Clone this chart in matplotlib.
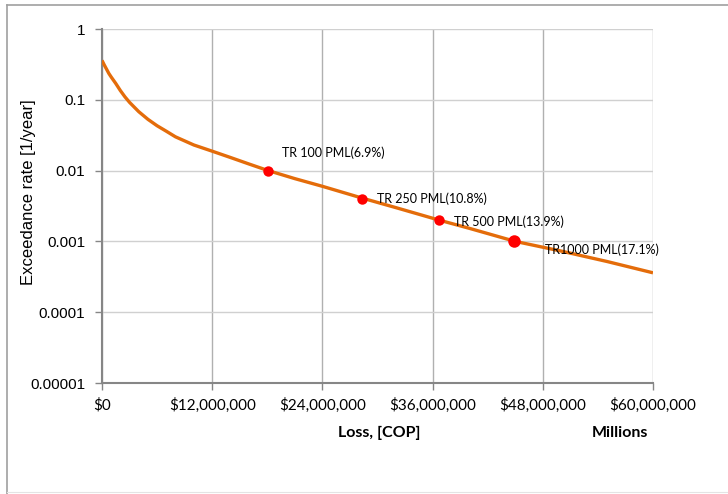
import matplotlib
matplotlib.use("Agg")
import matplotlib.pyplot as plt
from matplotlib.ticker import FixedLocator, FuncFormatter, NullLocator
from matplotlib.lines import Line2D

# Loss exceedance curve (loss in COP millions, annual exceedance rate)
loss = [0, 0.25, 0.5, 0.75, 1, 1.5, 2, 2.5, 3, 4, 5, 6, 7, 8, 10, 12, 14,
        16, 18, 21, 24, 28.3, 32, 36.7, 40, 45, 50, 55, 60]
loss = [v * 1e6 for v in loss]
rate = [0.36, 0.31, 0.27, 0.235, 0.21, 0.17, 0.135, 0.11, 0.092, 0.068,
        0.053, 0.043, 0.036, 0.030, 0.023, 0.0188, 0.0153, 0.0124, 0.0101,
        0.0077, 0.0060, 0.0041, 0.0030, 0.0020, 0.00153, 0.0010, 0.00073,
        0.00052, 0.00036]

# Probable maximum loss for selected return periods
pml_loss = [18.08e6, 28.3e6, 36.7e6, 44.9e6]
pml_rate = [0.01, 0.004, 0.002, 0.001]
pml_labels = ["TR 100 PML(6.9%)", "TR 250 PML(10.8%)", "TR 500 PML(13.9%)",
              "TR1000 PML(17.1%)"]
pml_sizes = [7.5, 7.5, 7.5, 9]

x_ticks = [0, 12e6, 24e6, 36e6, 48e6, 60e6]
y_ticks = [1e-5, 1e-4, 1e-3, 1e-2, 1e-1, 1]
y_tick_labels = ["0.00001", "0.0001", "0.001", "0.01", "0.1", "1"]

narrow = "Lato"
arial = "Liberation Sans"

W, H = 728, 494
fig = plt.figure(figsize=(W / 100, H / 100), dpi=100)

# chart border
fig.add_artist(Line2D([7 / W, 7 / W], [0, 1 - 5 / H], transform=fig.transFigure,
                      color="#a0a0a0", lw=1.2))
fig.add_artist(Line2D([7 / W, 1], [1 - 5 / H, 1 - 5 / H], transform=fig.transFigure,
                      color="#a0a0a0", lw=1.2))
fig.add_artist(Line2D([7 / W, 1], [2 / H, 2 / H], transform=fig.transFigure,
                      color="#e4e4e4", lw=0.8))

ax = fig.add_axes([102 / W, 1 - 383 / H, (653 - 102) / W, (383 - 29) / H])
ax.set_yscale("log")
ax.set_xlim(0, 60e6)
ax.set_ylim(1e-5, 1)

ax.yaxis.set_major_locator(FixedLocator(y_ticks))
ax.yaxis.set_minor_locator(NullLocator())
ax.set_yticks(y_ticks)
ax.set_yticklabels(y_tick_labels, fontfamily=arial, fontsize=11)
ax.xaxis.set_major_locator(FixedLocator(x_ticks))
ax.xaxis.set_major_formatter(FuncFormatter(lambda v, p: "${:,.0f}".format(v)))
ax.tick_params(axis="both", which="major", direction="out", length=5,
               color="#868686", width=1, colors="#000000")
ax.tick_params(axis="x", pad=6)
ax.tick_params(axis="y", pad=7)
for lab in ax.get_xticklabels():
    lab.set_fontfamily(narrow)
    lab.set_fontsize(11)

ax.grid(True, axis="y", color="#d0d0d0", lw=1)
ax.grid(True, axis="x", color="#b0b0b0", lw=1)
for side in ["top", "right"]:
    ax.spines[side].set_visible(False)
ax.spines["left"].set_color("#868686")
ax.spines["bottom"].set_color("#868686")
ax.spines["left"].set_linewidth(1.5)
ax.spines["bottom"].set_linewidth(1.5)

ax.plot(loss, rate, color="#E46C0A", lw=2.4, solid_capstyle="butt",
        solid_joinstyle="round", zorder=3)
for xv, yv, s in zip(pml_loss, pml_rate, pml_sizes):
    ax.plot(xv, yv, "o", color="#FF0000", ms=s, mec="none", zorder=4)

offsets = [(10, 13), (11, 0), (11, -1), (22, -6)]
for xv, yv, lab, off in zip(pml_loss, pml_rate, pml_labels, offsets):
    ax.annotate(lab, (xv, yv), xytext=off, textcoords="offset points",
                fontsize=9, fontfamily=narrow, va="center", ha="left",
                zorder=5)

fig.text(29 / W, 1 - 192 / H, "Exceedance rate [1/year]", fontfamily=arial,
         fontsize=12, rotation=90, ha="center", va="center")
fig.text(379 / W, 1 - 433 / H, "Loss, [COP]", fontfamily=narrow, fontsize=11.5,
         fontweight="bold", ha="center", va="center")
fig.text(620 / W, 1 - 433 / H, "Millions", fontfamily=narrow, fontsize=11.5,
         fontweight="bold", ha="center", va="center")

fig.savefig("out.png", dpi=100)
